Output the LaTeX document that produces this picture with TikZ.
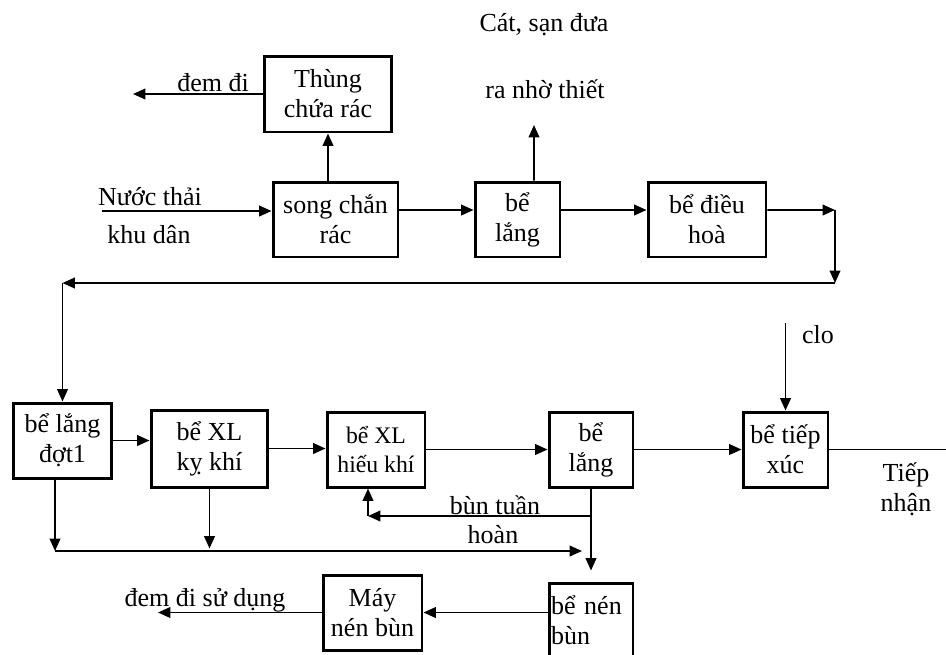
\documentclass[tikz,border=0pt]{standalone}
\usepackage{fontspec}
\setmainfont{Liberation Serif}
\usetikzlibrary{arrows.meta}

\tikzset{
  box/.style={draw, line width=1.7pt, align=center, inner sep=1pt},
  flow/.style={line width=1.1pt, -{Triangle[length=7pt,width=6pt]}},
  plain/.style={line width=1.1pt},
  lbl/.style={inner sep=0pt}
}

\begin{document}
\begin{tikzpicture}[x=0.02cm, y=-0.02cm, font=\fontsize{14.8}{17}\selectfont]
        \useasboundingbox (0,0) rectangle (946,654);
        \clip (0,0) rectangle (946,654);

        %%%%%%%%% Hang tren %%%%%%%%%
        \node[box, minimum width=2.56cm, minimum height=1.52cm] (thung) at (328,94) {Thùng\\chứa rác};
        \node[box, minimum width=2.5cm, minimum height=1.5cm] (song) at (335.5,219.5) {song chắn\\rác};
        \node[box, minimum width=1.7cm, minimum height=1.5cm] (lang1) at (517.5,219.5) {bể\\lắng};
        \node[box, minimum width=2.36cm, minimum height=1.5cm] (dieuhoa) at (707,219.5) {bể điều\\hoà};

        %%%%%%%%% Hang giua %%%%%%%%%
        \node[box, minimum width=1.98cm, minimum height=1.5cm] (dot1) at (62.5,440.5) {bể lắng\\đợt1};
        \node[box, minimum width=2.34cm, minimum height=1.54cm] (kykhi) at (209.5,448.5) {bể XL\\kỵ khí};
        \node[box, minimum width=1.96cm, minimum height=1.5cm, font=\fontsize{13.5}{16}\selectfont] (hieukhi) at (376,449.5) {bể XL\\hiếu khí};
        \node[box, minimum width=1.68cm, minimum height=1.5cm] (lang2) at (591,449.5) {bể\\lắng};
        \node[box, minimum width=1.7cm, minimum height=1.5cm] (tiepxuc) at (785.5,449.5) {bể tiếp\\xúc};

        %%%%%%%%% Hang duoi %%%%%%%%%
        \node[box, minimum width=1.68cm, minimum height=1.5cm, align=left, text width=1.6cm] (nen) at (591,620.5) {bể nén\\bùn};
        \node[box, minimum width=1.98cm, minimum height=1.5cm] (may) at (372.5,612.5) {Máy\\nén bùn};

        %%%%%%%%% Diem %%%%%%%%%
        \coordinate (vao) at (102,211);
        \coordinate (demdi) at (133,94);
        \coordinate (cat) at (534,125);
        \coordinate (r1) at (835,210);
        \coordinate (r2) at (835,283);
        \coordinate (r3) at (62.5,283);
        \coordinate (clo) at (786,323);
        \coordinate (ra) at (946,448);
        \coordinate (tuan) at (591,516);
        \coordinate (hoi) at (368,516);
        \coordinate (c1) at (55,551);
        \coordinate (c2) at (582,551);
        \coordinate (sudung) at (158,612.5);

        %%%%%%%%% Mui ten %%%%%%%%%
        \draw[flow] (vao) -- (vao -| song.west);
        \draw[flow] (thung.south |- song.north) -- (thung.south);
        \draw[flow] (thung.west) -- (demdi);
        \draw[flow] ([yshift=.19cm]song.east) -- ([yshift=.19cm]lang1.west);
        \draw[flow] ([xshift=.33cm]lang1.north) -- (cat);
        \draw[flow] ([yshift=.19cm]lang1.east) -- ([yshift=.19cm]dieuhoa.west);
        \draw[flow] ([yshift=.19cm]dieuhoa.east) -- (r1);
        \draw[flow] (r1) -- (r2);
        \draw[flow] (r2) -- (r3);
        \draw[flow] (r3) -- (dot1.north);

        \draw[flow] (dot1.east) -- (kykhi.west |- dot1.east);
        \draw[flow] (kykhi.east) -- (hieukhi.west |- kykhi.east);
        \draw[flow] (hieukhi.east) -- (lang2.west);
        \draw[flow] (lang2.east) -- (tiepxuc.west);
        \draw[plain] (tiepxuc.east) -- (ra |- tiepxuc.east);
        \draw[flow] (tiepxuc.north |- clo) -- (tiepxuc.north);

        \draw[flow] (lang2.south) -- ([yshift=.22cm]nen.north);
        \draw[flow] (tuan) -- (hoi);
        \draw[flow] (hoi) -- (hoi |- hieukhi.south);

        \draw[flow] (c1 |- dot1.south) -- (c1);
        \draw[flow] (c1) -- (c2);
        \draw[flow] (kykhi.south) -- ++(0,60);

        \draw[flow] (nen.west |- may.east) -- (may.east);
        \draw[flow] (may.west) -- (sudung);

        %%%%%%%%% Chu thich %%%%%%%%%
        \node[lbl] (t-vao1) at (150,197) {Nước thải};
        \node[lbl] (t-vao2) at (149,235) {khu dân};
        \node[lbl] (t-demdi) at (213,83) {đem đi};
        \node[lbl] (t-cat1) at (544,25) {Cát, sạn đưa};
        \node[lbl] (t-cat2) at (545,89) {ra nhờ thiết};
        \node[lbl] (t-clo) at (818,335) {clo};
        \node[lbl] (t-ra1) at (906,475) {Tiếp};
        \node[lbl] (t-ra2) at (906,505) {nhận};
        \node[lbl] (t-tuan1) at (495,505) {bùn tuần};
        \node[lbl] (t-tuan2) at (493,535) {hoàn};
        \node[lbl] (t-sudung) at (205,600) {đem đi sử dụng};
    \end{tikzpicture}
\end{document}
